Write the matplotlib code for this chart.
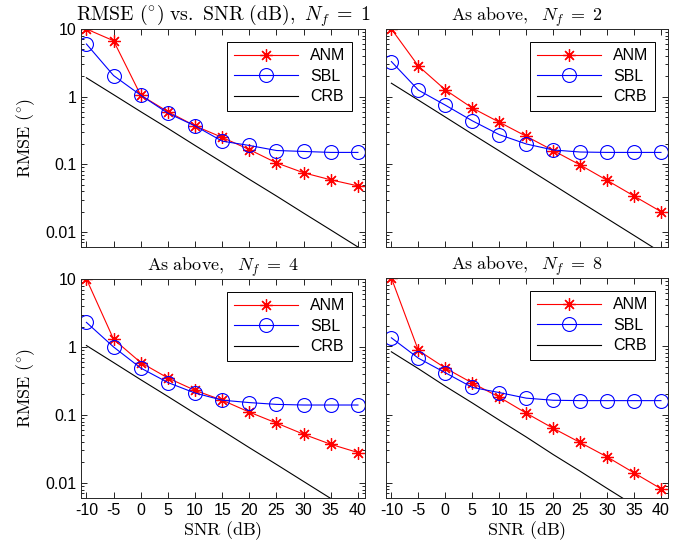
import matplotlib
matplotlib.use("Agg")
import matplotlib.pyplot as plt
from matplotlib.ticker import FixedLocator, LogLocator, NullFormatter

plt.rcParams["font.family"] = ["Liberation Sans", "DejaVu Sans"]
plt.rcParams["mathtext.fontset"] = "cm"

snr = [-10, -5, 0, 5, 10, 15, 20, 25, 30, 35, 40]

# Nf = 1
anm_1 = [10.0, 6.7, 1.05, 0.6, 0.37, 0.25, 0.165, 0.105, 0.075, 0.059, 0.048]
sbl_1 = [6.0, 2.05, 1.05, 0.57, 0.37, 0.22, 0.19, 0.16, 0.155, 0.15, 0.15]
crb_1 = [1.9, 1.07, 0.6, 0.34, 0.19, 0.107, 0.06, 0.034, 0.019, 0.0107, 0.006]

# Nf = 2
anm_2 = [10.0, 2.84, 1.26, 0.68, 0.42, 0.26, 0.16, 0.098, 0.058, 0.034, 0.02]
sbl_2 = [3.3, 1.25, 0.75, 0.44, 0.275, 0.2, 0.163, 0.152, 0.15, 0.15, 0.15]
crb_2 = [1.58, 0.89, 0.5, 0.28, 0.158, 0.089, 0.05, 0.028, 0.0158, 0.0089, 0.005]

# Nf = 4
anm_4 = [10.0, 1.3, 0.59, 0.35, 0.23, 0.165, 0.11, 0.076, 0.052, 0.037, 0.028]
sbl_4 = [2.3, 1.0, 0.49, 0.3, 0.21, 0.165, 0.152, 0.143, 0.14, 0.14, 0.14]
crb_4 = [1.05, 0.59, 0.33, 0.187, 0.105, 0.059, 0.033, 0.0187, 0.0105, 0.0059, 0.0033]

# Nf = 8
anm_8 = [10.0, 0.87, 0.48, 0.29, 0.18, 0.105, 0.063, 0.039, 0.024, 0.014, 0.0082]
sbl_8 = [1.33, 0.67, 0.41, 0.25, 0.21, 0.174, 0.162, 0.16, 0.16, 0.16, 0.16]
crb_8 = [0.83, 0.47, 0.26, 0.148, 0.083, 0.047, 0.026, 0.0148, 0.0083, 0.0047, 0.0026]

titles = [r"$\mathrm{RMSE\ (^{\circ})\ vs.\ SNR\ (dB)},\ N_f\;=\;1$",
          r"$\mathrm{As\ above,}\ \ N_f\;=\;2$",
          r"$\mathrm{As\ above,}\ \ N_f\;=\;4$",
          r"$\mathrm{As\ above,}\ \ N_f\;=\;8$"]
title_sizes = [14.3, 13, 13, 13]
panels = [(anm_1, sbl_1, crb_1), (anm_2, sbl_2, crb_2),
          (anm_4, sbl_4, crb_4), (anm_8, sbl_8, crb_8)]

W, H = 673, 554
fig = plt.figure(figsize=(W / 100, H / 100), dpi=100)

# axes boxes in pixels: left, top, right, bottom
boxes = [(81, 29, 365, 247), (386, 29, 668, 247),
         (81, 279, 365, 498), (386, 278, 668, 498)]

for i, (box, (anm, sbl, crb)) in enumerate(zip(boxes, panels)):
    l, t, r, b = box
    ax = fig.add_axes([l / W, 1 - b / H, (r - l) / W, (b - t) / H])
    ax.plot(snr, anm, color="red", marker=(8, 2, 0), markersize=9, mew=0.9,
            lw=0.8, label="ANM")
    ax.plot(snr, sbl, color="blue", marker="o", markersize=10, mfc="none",
            mew=0.8, lw=0.8, label="SBL")
    ax.plot(snr, crb, color="black", lw=0.8, label="CRB")
    ax.set_yscale("log")
    ax.set_xlim(-11, 41.3)
    ax.set_ylim(0.006, 10)
    ax.set_xticks(snr)
    ax.yaxis.set_major_locator(FixedLocator([0.01, 0.1, 1, 10]))
    ax.yaxis.set_minor_locator(LogLocator(base=10, subs=range(2, 10)))
    ax.yaxis.set_minor_formatter(NullFormatter())
    ax.tick_params(which="both", direction="in", top=True, right=True,
                   labelsize=11.5, width=0.6)
    ax.tick_params(which="major", length=4)
    ax.tick_params(which="minor", length=2)
    for s in ax.spines.values():
        s.set_linewidth(0.7)
        s.set_color("#262626")
    if i % 2 == 0:
        ax.set_yticklabels(["0.01", "0.1", "1", "10"])
        ax.set_ylabel(r"$\mathrm{RMSE\ (^{\circ})}$", fontsize=13, labelpad=6)
    else:
        ax.set_yticklabels([])
    if i >= 2:
        ax.set_xticklabels([str(v) for v in snr])
        ax.set_xlabel(r"$\mathrm{SNR\ (dB)}$", fontsize=13, labelpad=1)
    else:
        ax.set_xticklabels([])
    ax.set_title(titles[i], fontsize=title_sizes[i], pad=3)
    leg = ax.legend(loc="upper right", fontsize=11.5, handlelength=4,
                    fancybox=False, framealpha=1, edgecolor="black",
                    borderaxespad=0.8, labelspacing=0.35, borderpad=0.4)
    leg.get_frame().set_linewidth(0.7)

fig.savefig("out.png", dpi=100)
